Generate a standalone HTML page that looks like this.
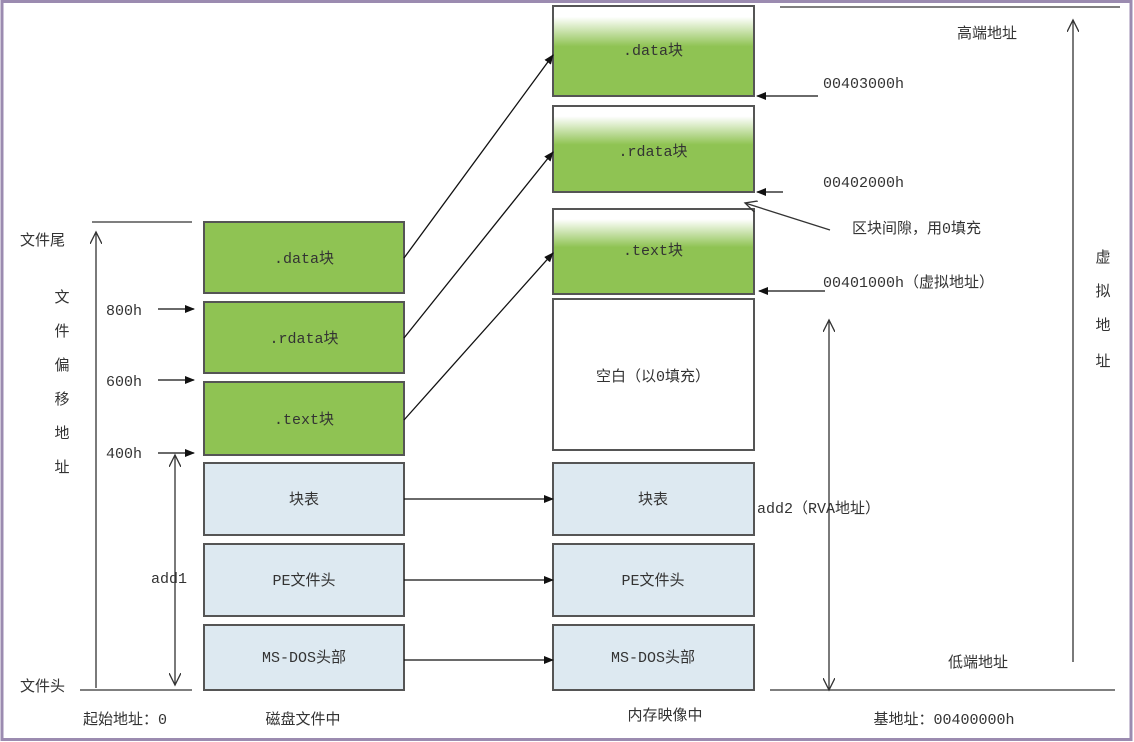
<!DOCTYPE html>
<html><head><meta charset="utf-8"><style>
html,body{margin:0;padding:0;background:#fff;}
svg{display:block;}
text{font-family:"Liberation Mono","Noto Sans CJK SC",monospace;font-size:15px;fill:#333;}
</style></head><body>
<svg width="1134" height="742" viewBox="0 0 1134 742" xmlns="http://www.w3.org/2000/svg">
<defs>
<linearGradient id="g" x1="0" y1="0" x2="0" y2="1">
<stop offset="0" stop-color="#ffffff"/><stop offset="0.12" stop-color="#ffffff"/><stop offset="0.45" stop-color="#8fc353"/><stop offset="1" stop-color="#8fc353"/>
</linearGradient>
<marker id="a" markerWidth="10" markerHeight="8" refX="9" refY="4" orient="auto" markerUnits="userSpaceOnUse"><path d="M0,0 L10,4 L0,8 z" fill="#111"/></marker>
<marker id="o" markerWidth="14" markerHeight="12" refX="12" refY="6" orient="auto" markerUnits="userSpaceOnUse"><path d="M0,0 L12,6 L0,12" fill="none" stroke="#333" stroke-width="1.3"/></marker>
</defs>
<rect x="2" y="1.5" width="1129" height="738" fill="#fff" stroke="#9b8bb0" stroke-width="3"/>
<g stroke="#555" stroke-width="2">
<rect x="204" y="222" width="200" height="71" fill="#8fc353"/>
<rect x="204" y="302" width="200" height="71" fill="#8fc353"/>
<rect x="204" y="382" width="200" height="73" fill="#8fc353"/>
<rect x="204" y="463" width="200" height="72" fill="#dde9f1"/>
<rect x="204" y="544" width="200" height="72" fill="#dde9f1"/>
<rect x="204" y="625" width="200" height="65" fill="#dde9f1"/>
<rect x="553" y="6" width="201" height="90" fill="url(#g)"/>
<rect x="553" y="106" width="201" height="86" fill="url(#g)"/>
<rect x="553" y="209" width="201" height="85" fill="url(#g)"/>
<rect x="553" y="299" width="201" height="151" fill="#fff"/>
<rect x="553" y="463" width="201" height="72" fill="#dde9f1"/>
<rect x="553" y="544" width="201" height="72" fill="#dde9f1"/>
<rect x="553" y="625" width="201" height="65" fill="#dde9f1"/>
</g>
<g stroke="#333" stroke-width="1.3" fill="none">
<line x1="92" y1="222" x2="192" y2="222"/>
<line x1="80" y1="690" x2="192" y2="690"/>
<line x1="780" y1="7" x2="1120" y2="7"/>
<line x1="770" y1="690" x2="1115" y2="690"/>
<line x1="96" y1="688" x2="96" y2="232" marker-end="url(#o)"/>
<line x1="175" y1="570" x2="175" y2="455" marker-end="url(#o)"/>
<line x1="175" y1="570" x2="175" y2="685" marker-end="url(#o)"/>
<line x1="829" y1="500" x2="829" y2="320" marker-end="url(#o)"/>
<line x1="829" y1="500" x2="829" y2="690" marker-end="url(#o)"/>
<line x1="1073" y1="662" x2="1073" y2="20" marker-end="url(#o)"/>
<line x1="830" y1="230" x2="745" y2="203" marker-end="url(#o)"/>
</g>
<g stroke="#111" stroke-width="1.3" marker-end="url(#a)">
<line x1="404" y1="258" x2="553" y2="55"/>
<line x1="404" y1="338" x2="553" y2="152"/>
<line x1="404" y1="420" x2="553" y2="253"/>
<line x1="404" y1="499" x2="553" y2="499"/>
<line x1="404" y1="580" x2="553" y2="580"/>
<line x1="404" y1="660" x2="553" y2="660"/>
<line x1="158" y1="309" x2="194" y2="309"/>
<line x1="158" y1="380" x2="194" y2="380"/>
<line x1="158" y1="453" x2="194" y2="453"/>
<line x1="818" y1="96" x2="757" y2="96"/>
<line x1="783" y1="192" x2="757" y2="192"/>
<line x1="825" y1="291" x2="759" y2="291"/>
</g>
<g text-anchor="middle">
<text x="304" y="263">.data块</text>
<text x="304" y="343">.rdata块</text>
<text x="304" y="424">.text块</text>
<text x="304" y="504">块表</text>
<text x="304" y="585">PE文件头</text>
<text x="304" y="662">MS-DOS头部</text>
<text x="653" y="55">.data块</text>
<text x="653" y="156">.rdata块</text>
<text x="653" y="255">.text块</text>
<text x="653" y="381">空白（以0填充）</text>
<text x="653" y="504">块表</text>
<text x="653" y="585">PE文件头</text>
<text x="653" y="662">MS-DOS头部</text>
<text x="303" y="724">磁盘文件中</text>
<text x="665" y="720">内存映像中</text>
<text x="125" y="724">起始地址：0</text>
<text x="944" y="724">基地址：00400000h</text>
<text x="62" y="302">文</text><text x="62" y="336">件</text><text x="62" y="370">偏</text><text x="62" y="404">移</text><text x="62" y="438">地</text><text x="62" y="472">址</text>
<text x="1103" y="262">虚</text><text x="1103" y="296">拟</text><text x="1103" y="330">地</text><text x="1103" y="366">址</text>
</g>
<text x="20" y="245">文件尾</text>
<text x="20" y="691">文件头</text>
<text x="106" y="315">800h</text>
<text x="106" y="386">600h</text>
<text x="106" y="458">400h</text>
<text x="151" y="583">add1</text>
<text x="757" y="513">add2（RVA地址）</text>
<text x="957" y="38">高端地址</text>
<text x="823" y="88">00403000h</text>
<text x="823" y="187">00402000h</text>
<text x="852" y="233">区块间隙，用0填充</text>
<text x="823" y="287">00401000h（虚拟地址）</text>
<text x="948" y="667">低端地址</text>
</svg>
</body></html>
